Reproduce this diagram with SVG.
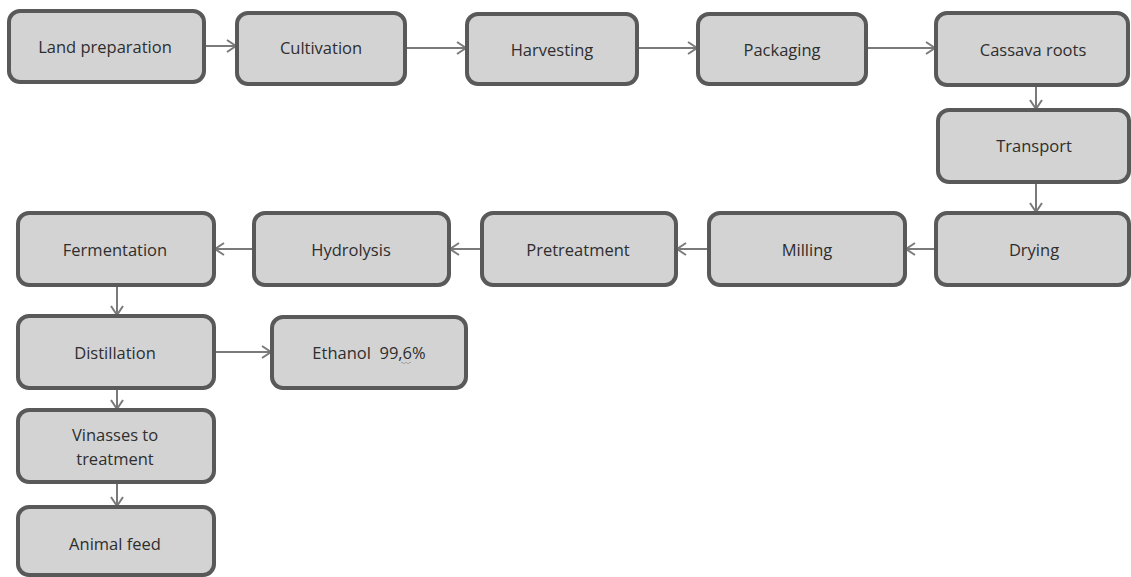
<svg xmlns="http://www.w3.org/2000/svg" width="1131" height="577" viewBox="0 0 1131 577">
<style>
.box{fill:#d3d3d3;stroke:#595959;stroke-width:4}
.lbl{font-family:"Open Sans","Liberation Sans",sans-serif;font-size:16.5px;fill:#2e2e2e;text-anchor:middle;dominant-baseline:central}
.con{stroke:#7a7a7a;stroke-width:2;fill:none;marker-end:url(#ah)}
</style>
<defs>
<marker id="ah" markerWidth="12" markerHeight="14" refX="10" refY="7" orient="auto" markerUnits="userSpaceOnUse">
<path d="M1,1 L10,7 L1,13" fill="none" stroke="#7a7a7a" stroke-width="2"/>
</marker>
</defs>
<rect width="1131" height="577" fill="#fff"/>
<g id="connectors">
<line class="con" x1="205" y1="46" x2="236" y2="46"/>
<line class="con" x1="407" y1="48" x2="466" y2="48"/>
<line class="con" x1="638" y1="48" x2="697" y2="48"/>
<line class="con" x1="868" y1="48" x2="935" y2="48"/>
<line class="con" x1="1036" y1="86" x2="1036" y2="109"/>
<line class="con" x1="1036" y1="183" x2="1036" y2="212"/>
<line class="con" x1="935" y1="249" x2="906" y2="249"/>
<line class="con" x1="708" y1="249" x2="677" y2="249"/>
<line class="con" x1="481" y1="249" x2="450" y2="249"/>
<line class="con" x1="253" y1="249" x2="215" y2="249"/>
<line class="con" x1="117" y1="286" x2="117" y2="315"/>
<line class="con" x1="215" y1="352" x2="271" y2="352"/>
<line class="con" x1="117" y1="389" x2="117" y2="409"/>
<line class="con" x1="117" y1="483" x2="117" y2="506"/>
</g>
<g id="n1"><rect class="box" x="9" y="11" width="195" height="71" rx="11"/><text class="lbl" x="105" y="46">Land preparation</text></g>
<g id="n2"><rect class="box" x="237" y="13" width="168" height="71" rx="11"/><text class="lbl" x="321" y="47">Cultivation</text></g>
<g id="n3"><rect class="box" x="467" y="14" width="170" height="70" rx="11"/><text class="lbl" x="552" y="49">Harvesting</text></g>
<g id="n4"><rect class="box" x="698" y="14" width="168" height="70" rx="11"/><text class="lbl" x="782" y="49">Packaging</text></g>
<g id="n5"><rect class="box" x="936" y="13" width="192" height="72" rx="11"/><text class="lbl" x="1033" y="49">Cassava roots</text></g>
<g id="n6"><rect class="box" x="938" y="110" width="191" height="72" rx="11"/><text class="lbl" x="1034" y="145">Transport</text></g>
<g id="n7"><rect class="box" x="936" y="213" width="193" height="72" rx="11"/><text class="lbl" x="1034" y="249">Drying</text></g>
<g id="n8"><rect class="box" x="709" y="213" width="196" height="72" rx="11"/><text class="lbl" x="807" y="249">Milling</text></g>
<g id="n9"><rect class="box" x="482" y="213" width="194" height="72" rx="11"/><text class="lbl" x="578" y="249">Pretreatment</text></g>
<g id="n10"><rect class="box" x="254" y="213" width="195" height="72" rx="11"/><text class="lbl" x="351" y="249">Hydrolysis</text></g>
<g id="n11"><rect class="box" x="18" y="213" width="196" height="72" rx="11"/><text class="lbl" x="115" y="249">Fermentation</text></g>
<g id="n12"><rect class="box" x="18" y="316" width="196" height="72" rx="11"/><text class="lbl" x="115" y="352">Distillation</text></g>
<g id="n13"><rect class="box" x="272" y="317" width="194" height="71" rx="11"/><text class="lbl" x="369" y="352" xml:space="preserve">Ethanol  99,6%</text><path d="M401,363 q1,-2 2,0 t2,0 t2,0 t2,0 t2,0" fill="none" stroke="#999" stroke-width="0.8"/></g>
<g id="n14"><rect class="box" x="18" y="410" width="196" height="72" rx="11"/><text class="lbl" x="115" y="434">Vinasses to</text><text class="lbl" x="115" y="458">treatment</text></g>
<g id="n15"><rect class="box" x="18" y="507" width="196" height="68" rx="11"/><text class="lbl" x="115" y="543">Animal feed</text></g>
</svg>
